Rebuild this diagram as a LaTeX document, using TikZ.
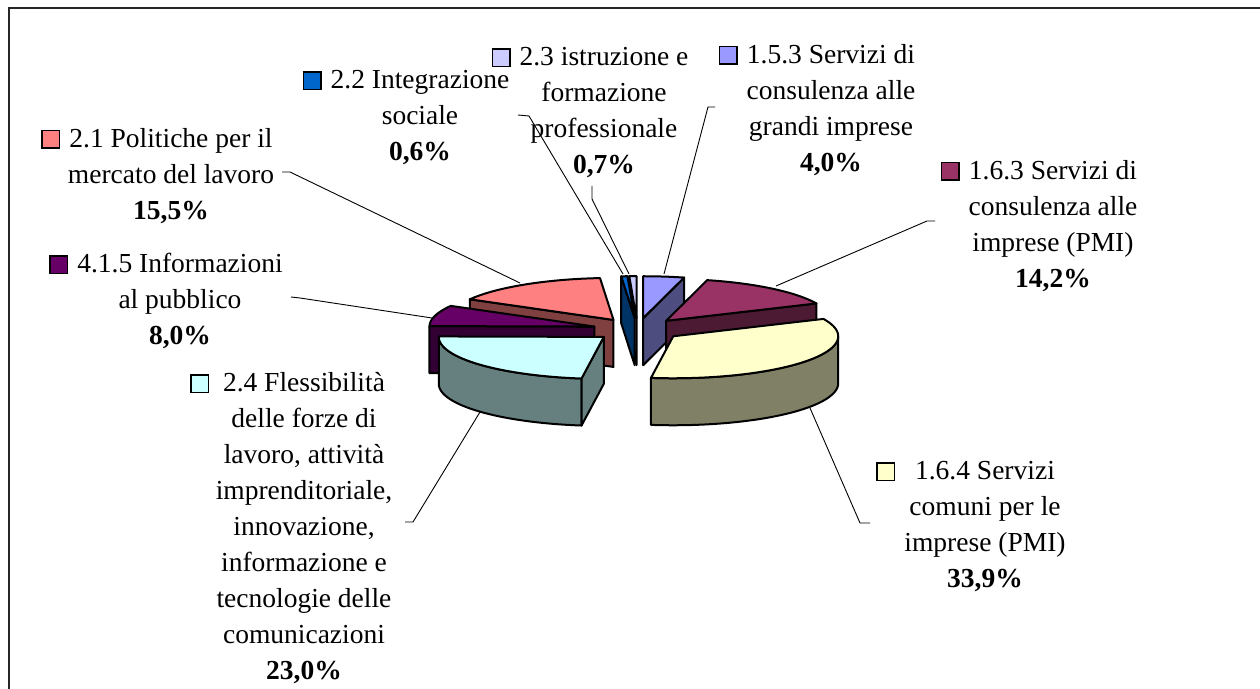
\documentclass[tikz,border=0pt]{standalone}
\usepackage{fontspec}
\setmainfont{Liberation Serif}
\usepackage{xcolor}

\definecolor{c153top}{HTML}{9999FF}
\definecolor{c153side}{HTML}{4D4D80}
\definecolor{c163top}{HTML}{993366}
\definecolor{c163side}{HTML}{4D1A33}
\definecolor{c164top}{HTML}{FFFFCC}
\definecolor{c164side}{HTML}{808066}
\definecolor{c24top}{HTML}{CCFFFF}
\definecolor{c24side}{HTML}{668080}
\definecolor{c415top}{HTML}{660066}
\definecolor{c415side}{HTML}{330033}
\definecolor{c21top}{HTML}{FF8080}
\definecolor{c21side}{HTML}{804040}
\definecolor{c22top}{HTML}{0066CC}
\definecolor{c22side}{HTML}{003366}
\definecolor{c23top}{HTML}{CCCCFF}
\definecolor{c23side}{HTML}{666680}

% pie geometry (picture units = pixels)
\newcommand{\pcx}{637.5}
\newcommand{\pcy}{329.5}
\newcommand{\prx}{165}
\newcommand{\pry}{42}
\newcommand{\pth}{47}
\newcommand{\pex}{0.27}

\setlength{\fboxsep}{0pt}
\setlength{\fboxrule}{0.75pt}
\newcommand{\legkey}[2][4.5pt]{\llap{\fcolorbox{black}{#2}{\rule{0pt}{8pt}\rule{8pt}{0pt}}\hspace{#1}}}

% one exploded slice: start angle, end angle, top colour, side colour
\newcommand{\pieslice}[4]{%
  \pgfmathsetmacro\slM{(#1+#2)/2}%
  \pgfmathsetmacro\apx{\pcx+\pex*\prx*sin(\slM)}%
  \pgfmathsetmacro\apy{\pcy-\pex*\pry*cos(\slM)}%
  \pgfmathsetmacro\rimA{max(#1,90)}%
  \pgfmathsetmacro\rimB{min(#2,270)}%
  \ifdim\rimB pt>\rimA pt
    \filldraw[face, fill=#4]
      plot[domain=\rimA:\rimB] ({\apx+\prx*sin(\x)},{\apy-\pry*cos(\x)})
      -- plot[domain=\rimB:\rimA] ({\apx+\prx*sin(\x)},{\apy+\pth-\pry*cos(\x)}) -- cycle;
  \fi
  \pgfmathsetmacro\cutS{sin(#1)}%
  \ifdim\cutS pt<-0.01pt
    \filldraw[face, fill=#4] (\apx,\apy) -- ({\apx+\prx*sin(#1)},{\apy-\pry*cos(#1)})
      -- ++(0,\pth) -- (\apx,{\apy+\pth}) -- cycle;
  \fi
  \pgfmathsetmacro\cutE{sin(#2)}%
  \ifdim\cutE pt>0.01pt
    \filldraw[face, fill=#4] (\apx,\apy) -- ({\apx+\prx*sin(#2)},{\apy-\pry*cos(#2)})
      -- ++(0,\pth) -- (\apx,{\apy+\pth}) -- cycle;
  \fi
  \filldraw[face, fill=#3] (\apx,\apy)
    -- plot[domain=#1:#2] ({\apx+\prx*sin(\x)},{\apy-\pry*cos(\x)}) -- cycle;
}

\begin{document}
\begin{tikzpicture}[
    x=0.5pt, y=-0.5pt, samples=60,
    face/.style={draw=black, line width=1pt, line join=round},
    pielabel/.style={align=center, anchor=north, inner sep=0pt, font=\fontsize{13.75}{18}\selectfont},
    leader/.style={line width=0.45pt}
]
\useasboundingbox (0,0) rectangle (1260,689);

% frame
\draw[line width=1pt, black!85] (9,689) -- (9,8.5) -- (1260,8.5);

% slices, back to front
\pieslice{357.48}{360}{c23top}{c23side}
\pieslice{355.32}{357.48}{c22top}{c22side}
\pieslice{0}{14.41}{c153top}{c153side}
\pieslice{14.41}{65.59}{c163top}{c163side}
\pieslice{299.46}{355.32}{c21top}{c21side}
\pieslice{270.63}{299.46}{c415top}{c415side}
\pieslice{65.59}{187.75}{c164top}{c164side}
\pieslice{187.75}{270.63}{c24top}{c24side}

% labels
\node[pielabel] (lab21) at (171,128) {\legkey{c21top}2.1 Politiche per il\\mercato del lavoro\\\textbf{15,5\%}};
\node[pielabel] (lab415) at (180,253) {\legkey{c415top}4.1.5 Informazioni\\al pubblico\\\textbf{8,0\%}};
\node[pielabel] (lab22) at (420,70) {\legkey{c22top}2.2 Integrazione\\sociale\\\textbf{0,6\%}};
\node[pielabel] (lab23) at (604,47) {\legkey{c23top}2.3 istruzione e\\formazione\\professionale\\\textbf{0,7\%}};
\node[pielabel] (lab153) at (831,44) {\legkey{c153top}1.5.3 Servizi di\\consulenza alle\\grandi imprese\\\textbf{4,0\%}};
\node[pielabel] (lab163) at (1053,160) {\legkey{c163top}1.6.3 Servizi di\\consulenza alle\\imprese (PMI)\\\textbf{14,2\%}};
\node[pielabel] (lab164) at (985,461) {\legkey[10pt]{c164top}1.6.4 Servizi\\comuni per le\\imprese (PMI)\\\textbf{33,9\%}};
\node[pielabel] (lab24) at (304,372) {\legkey[7pt]{c24top}2.4 Flessibilità\\delle forze di\\lavoro, attività\\imprenditoriale,\\innovazione,\\informazione e\\tecnologie delle\\comunicazioni\\\textbf{23,0\%}};

% leader lines
\coordinate (l21) at (282,172);   \coordinate (k21) at (290,172);   \coordinate (p21) at (520,283);
\coordinate (l415) at (291,297);  \coordinate (k415) at (300,298); \coordinate (p415) at (432,318);
\coordinate (l22) at (518,115);   \coordinate (k22) at (529,116);   \coordinate (p22) at (623,274);
\coordinate (l23) at (592,186);   \coordinate (k23) at (592,199);   \coordinate (p23) at (629,274);
\coordinate (l153) at (715,107);  \coordinate (k153) at (708,107); \coordinate (p153) at (664,274);
\coordinate (l163) at (935,221);  \coordinate (k163) at (927,221); \coordinate (p163) at (776,286);
\coordinate (l164) at (870,523);  \coordinate (k164) at (860,523); \coordinate (p164) at (810,408);
\coordinate (l24) at (405,522);   \coordinate (k24) at (413,522);   \coordinate (p24) at (480,412);

\draw[leader] (l21) -- (k21) -- (p21);
\draw[leader] (l415) -- (k415) -- (p415);
\draw[leader] (l22) -- (k22) -- (p22);
\draw[leader] (l23) -- (k23) -- (p23);
\draw[leader] (l153) -- (k153) -- (p153);
\draw[leader] (l163) -- (k163) -- (p163);
\draw[leader] (l164) -- (k164) -- (p164);
\draw[leader] (l24) -- (k24) -- (p24);

\end{tikzpicture}
\end{document}
